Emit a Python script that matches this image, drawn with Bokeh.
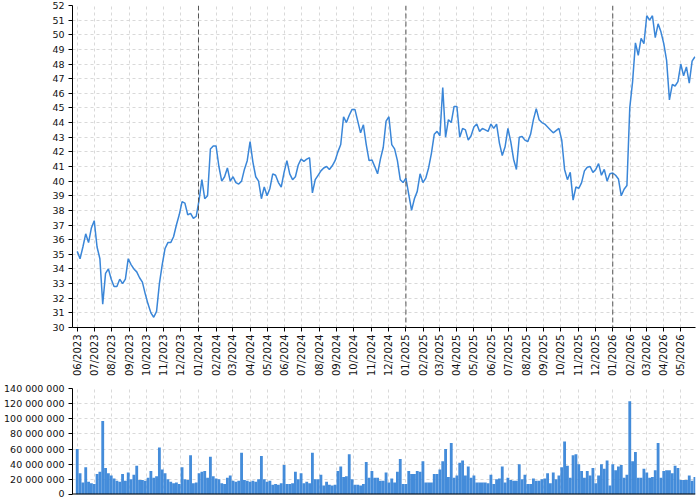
import numpy as np
import pandas as pd
from bokeh.plotting import figure
from bokeh.models import Range1d, FixedTicker, Span
from bokeh.layouts import column
from bokeh.embed import file_html
from bokeh.resources import INLINE

start_date = "2023-06-01"
step_days = 5

price = [
    35.2, 34.7, 35.5, 36.4, 35.8, 36.8, 37.3, 35.5, 34.7, 31.6,
    33.7, 34.0, 33.3, 32.8, 32.8, 33.3, 33.0, 33.3, 34.7, 34.3,
    34.0, 33.8, 33.4, 33.1, 32.3, 31.6, 31.0, 30.7, 31.1, 33.0,
    34.3, 35.4, 35.8, 35.8, 36.2, 37.0, 37.7, 38.6, 38.5, 37.7,
    37.8, 37.45, 37.6, 38.7, 40.1, 38.8, 39.0, 42.2, 42.4, 42.4,
    41.0, 40.0, 40.3, 40.9, 40.0, 40.3, 39.9, 39.8, 40.0, 40.8,
    41.4, 42.7, 41.3, 40.3, 40.0, 38.8, 39.6, 39.0, 39.5, 40.5,
    40.4, 39.9, 39.6, 40.6, 41.4, 40.5, 40.1, 40.3, 41.1, 41.5,
    41.35, 41.5, 41.6, 39.2, 40.1, 40.4, 40.7, 40.9, 41.0, 40.8,
    41.05, 41.4, 42.0, 42.5, 44.4, 44.0, 44.5, 44.9, 44.9, 44.1,
    43.3, 43.85, 42.5, 41.4, 41.45, 41.0, 40.5, 41.5, 42.3, 44.1,
    44.4, 42.5, 42.2, 41.4, 40.1, 39.9, 40.2, 39.1, 38.0, 38.8,
    39.3, 40.5, 39.9, 40.2, 40.9, 41.9, 43.2, 43.4, 43.1, 46.4,
    43.0, 44.2, 44.0, 45.1, 45.1, 43.0, 43.6, 43.5, 42.8, 43.1,
    43.7, 43.9, 43.4, 43.6, 43.5, 43.4, 43.9, 43.6, 43.9, 42.6,
    41.75, 42.35, 43.6, 42.7, 41.5, 40.8, 43.0, 43.05, 42.8, 42.7,
    43.2, 44.2, 44.95, 44.2, 44.0, 43.9, 43.7, 43.5, 43.3, 43.45,
    43.6, 42.8, 40.8, 40.1, 40.6, 38.7, 39.6, 39.5, 39.9, 40.7,
    40.95, 41.0, 40.6, 40.8, 41.2, 40.4, 40.8, 40.0, 40.5, 40.55,
    40.4, 40.15, 39.0, 39.45, 39.7, 45.0, 46.8, 49.45, 48.6, 49.75,
    49.4, 51.3, 51.0, 51.3, 49.8, 50.75, 50.2, 49.4, 48.25, 45.55,
    46.6, 46.5, 46.8, 48.0, 47.2, 47.8, 46.7, 48.2, 48.5,
]

volume_millions = [
    60, 28, 16, 36, 17, 15, 14, 27, 30, 97,
    35, 28, 25, 21, 18, 17, 27, 18, 29, 20,
    26, 38, 19, 19, 18, 22, 31, 22, 24, 62,
    33, 28, 20, 17, 15, 16, 14, 36, 20, 19,
    52, 15, 16, 28, 30, 31, 22, 50, 24, 21,
    20, 15, 14, 22, 25, 18, 17, 18, 55, 19,
    18, 17, 18, 17, 20, 51, 20, 17, 18, 13,
    14, 13, 15, 39, 14, 14, 15, 30, 20, 28,
    15, 17, 15, 55, 20, 20, 26, 12, 17, 13,
    12, 13, 31, 37, 23, 24, 53, 20, 13, 13,
    12, 14, 43, 22, 31, 22, 22, 18, 18, 29,
    16, 21, 16, 30, 47, 14, 14, 31, 27, 27,
    31, 30, 44, 16, 16, 16, 27, 27, 33, 44,
    60, 23, 68, 22, 25, 42, 45, 25, 37, 22,
    25, 16, 16, 16, 16, 15, 26, 14, 20, 21,
    37, 16, 22, 19, 18, 18, 40, 20, 26, 14,
    14, 21, 18, 18, 20, 21, 28, 15, 29, 20,
    25, 36, 70, 38, 22, 52, 53, 40, 31, 22,
    31, 25, 35, 15, 25, 40, 34, 45, 12, 40,
    32, 37, 39, 22, 26, 123, 44, 56, 22, 22,
    34, 29, 22, 23, 32, 68, 22, 31, 32, 32,
    28, 38, 35, 19, 19, 19, 25, 18, 23,
]

year_marks = ["2024-01-01", "2025-01-01", "2026-01-01"]
month_ticks = pd.date_range("2023-06-01", "2026-05-01", freq="MS")
month_labels = [d.strftime("%m/%Y") for d in month_ticks]
price_ticks = list(range(30, 53))
volume_ticks = [0, 20e6, 40e6, 60e6, 80e6, 100e6, 120e6, 140e6]
volume_labels = ["0", "20 000 000", "40 000 000", "60 000 000", "80 000 000",
                 "100 000 000", "120 000 000", "140 000 000"]

# ---- derived ----
dates = pd.date_range(start_date, periods=len(price), freq=f"{step_days}D")
volume = [v * 1e6 for v in volume_millions]


def ms(d):
    return pd.Timestamp(d).value / 1e6


month_ms = [ms(d) for d in month_ticks]
x_range = Range1d(start=ms("2023-05-23 16:00"), end=ms("2026-05-27"))

FONT = "DejaVu Sans"
LINE = "#3a86d8"
GRID = "#d9d9d9"


def style_axes(p):
    for ax in (p.xaxis[0], p.yaxis[0]):
        ax.axis_line_color = "#000000"
        ax.major_tick_line_color = "#000000"
        ax.major_tick_out = 4
        ax.major_tick_in = 0
        ax.minor_tick_line_color = None
        ax.major_label_text_font = FONT
        ax.major_label_text_color = "#111111"
        ax.major_label_standoff = 4
    p.xgrid.grid_line_color = GRID
    p.ygrid.grid_line_color = GRID
    p.xgrid.grid_line_dash = "3 3"
    p.ygrid.grid_line_dash = "3 3"
    p.outline_line_color = None


# ---- price chart ----
p1 = figure(width=698, height=380, x_axis_type="datetime", x_range=x_range,
            y_range=Range1d(30, 52), output_backend="svg", toolbar_location=None,
            min_border_left=72, min_border_right=3, min_border_top=5,
            min_border_bottom=53)
style_axes(p1)
p1.xaxis.ticker = FixedTicker(ticks=month_ms)
p1.xaxis.major_label_overrides = {t: l for t, l in zip(month_ms, month_labels)}
p1.xaxis.major_label_orientation = np.pi / 2
p1.xaxis.major_label_text_font_size = "10px"
p1.xaxis.major_label_standoff = 3
p1.yaxis.ticker = FixedTicker(ticks=price_ticks)
p1.yaxis.major_label_text_font_size = "9.5px"

for ym in year_marks:
    p1.add_layout(Span(location=ms(ym), dimension="height", line_color="#555555",
                       line_dash="5 3", line_width=1))

p1.line(dates, price, line_color=LINE, line_width=1.5)

# ---- volume chart ----
p2 = figure(width=698, height=118, x_axis_type="datetime", x_range=x_range,
            y_range=Range1d(0, 140e6), output_backend="svg", toolbar_location=None,
            min_border_left=72, min_border_right=3, min_border_top=8,
            min_border_bottom=4)
style_axes(p2)
p2.xaxis.visible = False
p2.xgrid.ticker = FixedTicker(ticks=month_ms)
p2.yaxis.ticker = FixedTicker(ticks=volume_ticks)
p2.yaxis.major_label_overrides = {t: l for t, l in zip(volume_ticks, volume_labels)}
p2.yaxis.major_label_text_font_size = "9.5px"

p2.vbar(x=dates, top=volume, width=step_days * 86400000, fill_color=LINE,
        fill_alpha=0.95, line_color=None)
p2.add_layout(Span(location=0, dimension="width", line_color="#000000",
                   line_width=2))

layout = column(p1, p2)
open("out.html", "w").write(file_html(layout, INLINE))
